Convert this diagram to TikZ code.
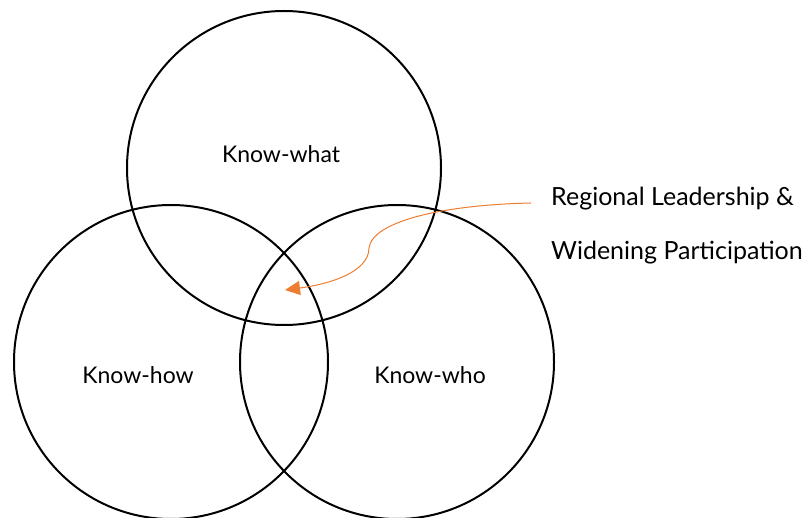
\documentclass[tikz,border=0pt]{standalone}
\usepackage{fontspec}
\setmainfont{Lato}
\usetikzlibrary{arrows.meta}
\definecolor{accent}{HTML}{ED7D31}
\begin{document}
\begin{tikzpicture}[x=1pt,y=-1pt,
  ring/.style={draw=black,line width=2pt,circle,minimum size=314pt,inner sep=0pt},
  label/.style={font=\fontsize{23}{27}\selectfont,inner sep=0pt,anchor=base},
  caption/.style={font=\fontsize{25}{29}\selectfont,inner sep=0pt,anchor=base west},
  pointer/.style={draw=accent,line width=1pt,-{Triangle[length=15pt,width=14pt]}}]
\useasboundingbox (0,0) rectangle (808,518);
% three overlapping circles
\node[ring] (what) at (284,168) {};
\node[ring] (how) at (171,362) {};
\node[ring] (who) at (397,362) {};
\node[label] (twhat) at (281,163) {Know-what};
\node[label] (thow) at (138,383) {Know-how};
\node[label] (twho) at (430,383) {Know-who};
% side caption
\node[caption] (cap1) at (551,206) {Regional Leadership \&};
\node[caption] (cap2) at (551,260) {Widening Participation};
\coordinate (start) at (531,203);
\coordinate (mid) at (369,248);
\coordinate (tip) at (285,290);
\draw[pointer] (start) .. controls (440,205) and (372,222) .. (mid)
  .. controls (369,272) and (330,284) .. (tip);
\end{tikzpicture}
\end{document}
